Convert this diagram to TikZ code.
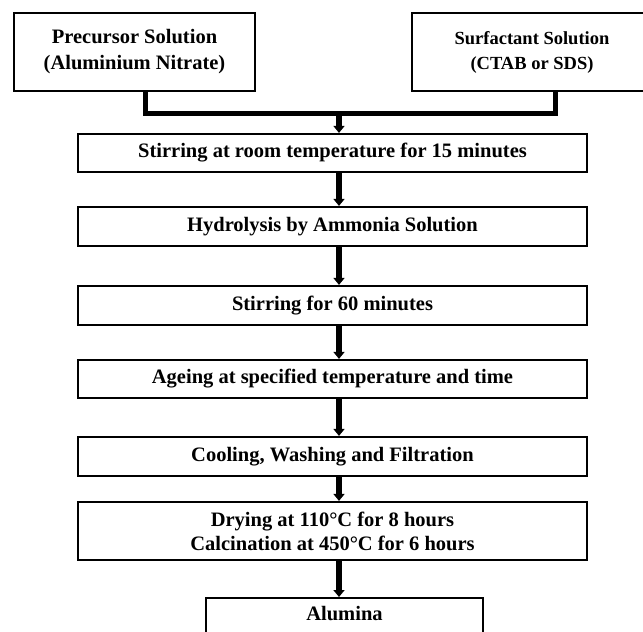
\documentclass[tikz,border=0pt]{standalone}
\usepackage{fontspec}
\setmainfont{Liberation Serif}
\usetikzlibrary{arrows.meta}

\tikzset{every picture/.style={line width=2pt}}
\tikzset{stepbox/.style={draw, line width=2.2pt, inner sep=0pt, align=center,
    font=\fontsize{20.5}{24}\selectfont\bfseries},
  topbox/.style={stepbox, minimum width=241pt, minimum height=78pt,
    font=\fontsize{20.5}{26}\selectfont\bfseries},
  bus/.style={line width=5pt, line join=miter},
  flow/.style={line width=5.5pt, -{Triangle[width=11pt,length=7pt]}}}

\begin{document}
\begin{tikzpicture}[x=1pt,y=1pt,yscale=-1,xscale=1]
\clip (0,0) rectangle (643,632);

% Source boxes
\node (prec) [topbox] at (134.5,52) {Precursor Solution\\(Aluminium Nitrate)};
\node (surf) [topbox, minimum width=240pt, font=\fontsize{18.5}{25}\selectfont\bfseries] at (532,52) {Surfactant Solution\\(CTAB or SDS)};

% Process steps
\node (stir) [stepbox, minimum width=509pt, minimum height=38pt] at (332.5,153) {Stirring at room temperature for 15 minutes};
\node (hydro) [stepbox, minimum width=509pt, minimum height=39pt] at (332.5,226.5) {Hydrolysis by Ammonia Solution};
\node (stirtwo) [stepbox, minimum width=509pt, minimum height=39pt] at (332.5,305.5) {Stirring for 60 minutes};
\node (age) [stepbox, minimum width=509pt, minimum height=38pt] at (332.5,379) {Ageing at specified temperature and time};
\node (cool) [stepbox, minimum width=509pt, minimum height=39pt] at (332.5,456.5) {Cooling, Washing and Filtration};
\node (dry) [stepbox, minimum width=509pt, minimum height=58pt] at (332.5,531) {Drying at 110°C for 8 hours\\Calcination at 450°C for 6 hours};
\node (alumina) [stepbox, anchor=north, minimum width=277pt, text height=14pt, text depth=30pt, inner ysep=8pt] at (344.5,597) {Alumina};

% Connectors
\coordinate (jn) at (339,113);
\draw [bus] ([xshift=10.5pt]prec.south) |- (jn) -| ([xshift=23pt]surf.south);
\draw [flow] (jn) -- (jn |- stir.north);
\draw [flow] (stir.south -| jn) -- (hydro.north -| jn);
\draw [flow] (hydro.south -| jn) -- (stirtwo.north -| jn);
\draw [flow] (stirtwo.south -| jn) -- (age.north -| jn);
\draw [flow] (age.south -| jn) -- (cool.north -| jn);
\draw [flow] (cool.south -| jn) -- (dry.north -| jn);
\draw [flow] (dry.south -| jn) -- (alumina.north -| jn);

\end{tikzpicture}
\end{document}
